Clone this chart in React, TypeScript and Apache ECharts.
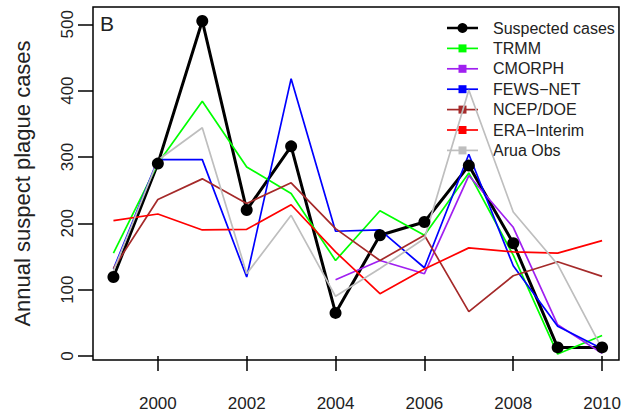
import React, { useEffect, useRef } from "react";
import * as echarts from "echarts";

const years = [1999, 2000, 2001, 2002, 2003, 2004, 2005, 2006, 2007, 2008, 2009, 2010];
const suspected = [119, 290, 505, 220, 316, 65, 182, 202, 287, 170, 13, 13];
const trmm = [155, 290, 384, 285, 245, 144, 219, 182, 276, 152, 3, 31];
const cmorph = [null, null, null, null, null, 115, 144, 124, 272, 194, 47, 4];
const fewsnet = [131, 296, 296, 119, 418, 188, 190, 133, 304, 136, 45, 11];
const ncep = [132, 236, 267, 230, 261, 192, 144, 182, 67, 121, 142, 120];
const era = [204, 214, 190, 191, 228, 157, 94, 131, 163, 157, 155, 174];
const arua = [128, 295, 344, 124, 212, 90, 132, 177, 401, 217, 138, 11];

const xTicks = [2000, 2002, 2004, 2006, 2008, 2010];
const yTicks = [0, 100, 200, 300, 400, 500];

const seriesNames = ["Suspected cases", "TRMM", "CMORPH", "FEWS\u2212NET", "NCEP/DOE", "ERA\u2212Interim", "Arua Obs"];
const seriesColors = ["#000000", "#00ff00", "#a020f0", "#0000ff", "#a52a2a", "#ff0000", "#bebebe"];
const seriesData = [suspected, trmm, cmorph, fewsnet, ncep, era, arua];

const FONT = "Liberation Sans, Arial, Helvetica, sans-serif";

export default function App() {
  const ref = useRef<HTMLDivElement>(null);
  useEffect(() => {
    if (!ref.current) return;
    const chart = echarts.init(ref.current, null, { renderer: "svg" });

    const series = seriesData.map((arr, i) => ({
      name: seriesNames[i],
      type: "line",
      data: arr.map((v, j) => [years[j], v]),
      connectNulls: false,
      symbol: i === 0 ? "circle" : "none",
      symbolSize: 12,
      showSymbol: i === 0,
      lineStyle: { color: seriesColors[i], width: i === 0 ? 3 : 1.7 },
      itemStyle: { color: seriesColors[i] },
      z: 2,
    }));

    const legendX0 = 447;
    const legendX1 = 478;
    const legendY0 = 28;
    const legendStep = 20.4;
    const legendEls: any[] = [];
    seriesNames.forEach((name, i) => {
      const y = legendY0 + i * legendStep;
      legendEls.push({
        type: "line",
        shape: { x1: legendX0, y1: y, x2: legendX1, y2: y },
        style: { stroke: seriesColors[i], lineWidth: i === 0 ? 2.5 : 1.7 },
      });
      if (i === 0) {
        legendEls.push({
          type: "circle",
          shape: { cx: (legendX0 + legendX1) / 2, cy: y, r: 5 },
          style: { fill: seriesColors[i] },
        });
      } else {
        legendEls.push({
          type: "rect",
          shape: { x: (legendX0 + legendX1) / 2 - 4, y: y - 4, width: 8, height: 8 },
          style: { fill: seriesColors[i] },
        });
      }
      legendEls.push({
        type: "text",
        x: 493,
        y: y,
        style: {
          text: name,
          font: `16px ${FONT}`,
          fill: "#222",
          verticalAlign: "middle",
          align: "left",
        },
      });
    });

    chart.setOption({
      animation: false,
      backgroundColor: "#ffffff",
      textStyle: { fontFamily: FONT },
      grid: {
        left: 93,
        top: 7,
        width: 528,
        height: 353,
        show: true,
        borderColor: "#000",
        borderWidth: 1.5,
        backgroundColor: "transparent",
      },
      xAxis: {
        type: "value",
        min: 1998.54,
        max: 2010.38,
        axisLine: { show: false },
        splitLine: { show: false },
        axisTick: {
          show: true,
          inside: false,
          length: 15,
          customValues: xTicks,
          lineStyle: { color: "#000", width: 1.5 },
        },
        axisLabel: {
          customValues: xTicks,
          margin: 35,
          fontSize: 17,
          color: "#222",
          fontFamily: FONT,
          formatter: (v: number) => String(v),
        },
      },
      yAxis: {
        type: "value",
        min: -6,
        max: 526,
        axisLine: { show: false },
        splitLine: { show: false },
        axisTick: {
          show: true,
          inside: false,
          length: 15,
          customValues: yTicks,
          lineStyle: { color: "#000", width: 1.5 },
        },
        axisLabel: {
          customValues: yTicks,
          rotate: 90,
          margin: 17,
          fontSize: 17,
          color: "#222",
          fontFamily: FONT,
          formatter: (v: number) => String(v),
        },
        name: "Annual suspect plague cases",
        nameLocation: "middle",
        nameRotate: 90,
        nameGap: 60,
        nameTextStyle: { fontSize: 22, color: "#222", fontFamily: FONT },
      },
      series,
      graphic: [
        {
          type: "text",
          x: 100,
          y: 23,
          style: { text: "B", font: `21px ${FONT}`, fill: "#222", verticalAlign: "middle" },
        },
        ...legendEls,
      ],
    });
    return () => chart.dispose();
  }, []);
  return <div ref={ref} style={{ width: 624, height: 418, position: "absolute", left: 0, top: 0 }} />;
}
